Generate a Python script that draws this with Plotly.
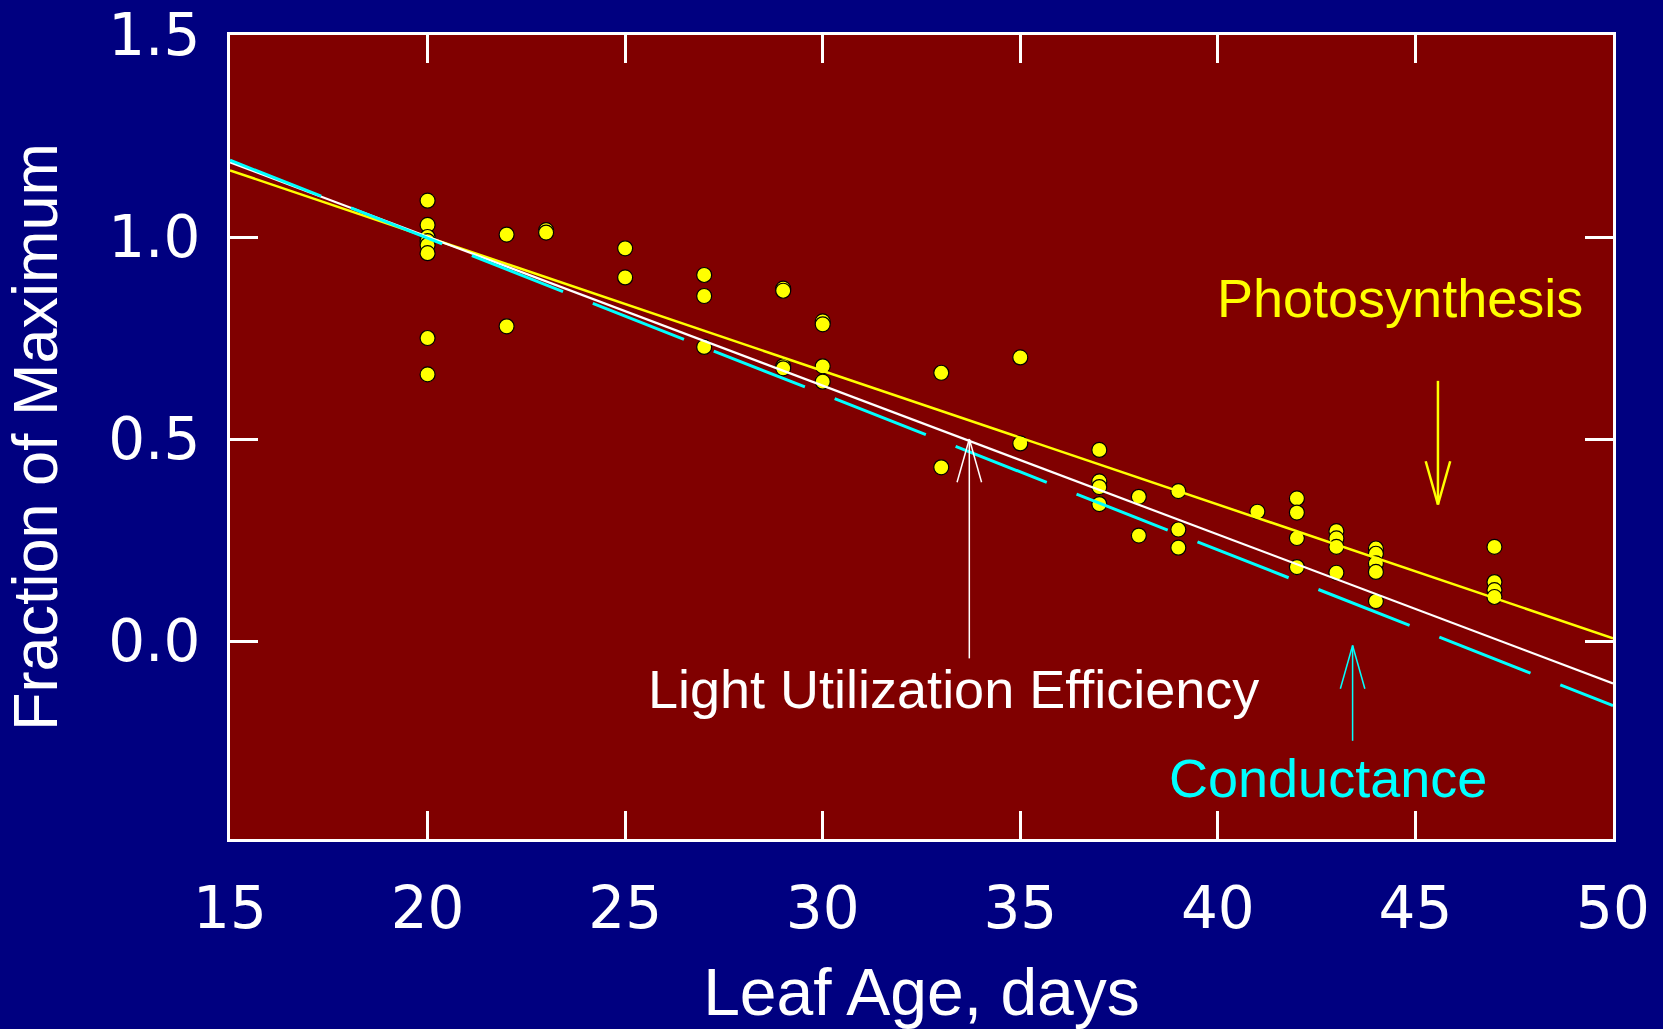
import plotly.graph_objects as go

# ---- data ----
leaf_age = [20, 20, 20, 20, 20, 20, 20, 20,
            22, 22, 23, 23, 25, 25, 27, 27, 27,
            29, 29, 29, 29, 30, 30, 30, 30,
            33, 33, 35, 35, 37, 37, 37, 37,
            38, 38, 39, 39, 39, 41,
            42, 42, 42, 42, 43, 43, 43, 43,
            44, 44, 44, 44, 44, 47, 47, 47, 47]
fraction = [1.09, 1.03, 1.00, 0.99, 0.98, 0.96, 0.75, 0.66,
            1.006, 0.779, 1.017, 1.011, 0.972, 0.900, 0.906, 0.854, 0.728,
            0.872, 0.867, 0.680, 0.675, 0.791, 0.784, 0.680, 0.642,
            0.664, 0.430, 0.702, 0.489, 0.473, 0.395, 0.381, 0.339,
            0.357, 0.261, 0.371, 0.276, 0.231, 0.320,
            0.353, 0.318, 0.255, 0.183, 0.272, 0.254, 0.233, 0.169,
            0.229, 0.216, 0.192, 0.171, 0.099, 0.233, 0.146, 0.126, 0.109]

fit_age = [15, 50]
photosynthesis_fit = [1.165, 0.007]
light_use_fit = [1.185, -0.105]
conductance_fit = [1.19, -0.16]

x_ticks = [15, 20, 25, 30, 35, 40, 45, 50]
y_ticks = [0.0, 0.5, 1.0, 1.5]
y_tick_labels = ["0.0", "0.5", "1.0", "1.5"]

# annotation labels: (text, x, y, colour)
labels = [
    ("Photosynthesis", 44.60, 0.85, "#FFFF00"),
    ("Light Utilization Efficiency", 33.32, -0.118, "#FFFFFF"),
    ("Conductance", 42.78, -0.338, "#00FFFF"),
]
# arrows: (x, y_tail, y_tip, colour, width)
arrows = [
    (33.71, -0.043, 0.50, "#FFFFFF", 1.5),
    (43.41, -0.247, -0.011, "#00FFFF", 1.5),
    (45.57, 0.644, 0.338, "#FFFF00", 2.5),
]
head_len = 0.107
head_half = 0.31

NAVY = "#000080"
MAROON = "#800000"

fig = go.Figure()

fig.add_trace(go.Scatter(
    x=leaf_age, y=fraction, mode="markers",
    marker=dict(size=15, color="#FFFF00", line=dict(color="black", width=1.2)),
    showlegend=False, name="data"))

fig.add_trace(go.Scatter(x=fit_age, y=photosynthesis_fit, mode="lines",
                         line=dict(color="#FFFF00", width=2.5), showlegend=False,
                         name="Photosynthesis"))
fig.add_trace(go.Scatter(x=fit_age, y=light_use_fit, mode="lines",
                         line=dict(color="#FFFFFF", width=2.2), showlegend=False,
                         name="Light Utilization Efficiency"))
fig.add_trace(go.Scatter(x=fit_age, y=conductance_fit, mode="lines",
                         line=dict(color="#00FFFF", width=3, dash="98px,32px"),
                         showlegend=False, name="Conductance"))

shapes = []
for ax, y0, y1, col, w in arrows:
    sgn = 1 if y1 > y0 else -1
    shapes.append(dict(type="line", xref="x", yref="y", x0=ax, x1=ax, y0=y0, y1=y1,
                       line=dict(color=col, width=w)))
    for side in (-1, 1):
        shapes.append(dict(type="line", xref="x", yref="y",
                           x0=ax + side * head_half, y0=y1 - sgn * head_len,
                           x1=ax, y1=y1, line=dict(color=col, width=w)))
fig.update_layout(shapes=shapes)

for text, lx, ly, col in labels:
    fig.add_annotation(x=lx, y=ly, xref="x", yref="y", text=text, showarrow=False,
                       xanchor="center", yanchor="middle",
                       font=dict(family="Liberation Sans, Arial", size=54, color=col))

axis_common = dict(
    showgrid=False, zeroline=False, showline=True, linecolor="white", linewidth=3,
    mirror="ticks", ticks="inside", ticklen=28, tickwidth=3, tickcolor="white",
    tickfont=dict(family="DejaVu Sans", size=58, color="white"),
)

fig.update_xaxes(range=[15, 50], tickvals=x_ticks,
                 title=dict(text="Leaf Age, days", standoff=42,
                            font=dict(family="Liberation Sans, Arial", size=66, color="white")),
                 ticklabelstandoff=16, **axis_common)
fig.update_yaxes(range=[-0.49, 1.5], tickvals=y_ticks, ticktext=y_tick_labels,
                 title=dict(text="Fraction of Maximum", standoff=37,
                            font=dict(family="Liberation Sans, Arial", size=63, color="white")),
                 ticklabelstandoff=15, **axis_common)

fig.update_layout(
    width=1663, height=1029,
    paper_bgcolor=NAVY, plot_bgcolor=MAROON,
    margin=dict(l=230, r=50, t=35, b=190, autoexpand=False),
)

fig.write_html("out.html", config={"displayModeBar": False},
               post_script="document.body.style.margin='0';document.body.style.background='#000080';")
